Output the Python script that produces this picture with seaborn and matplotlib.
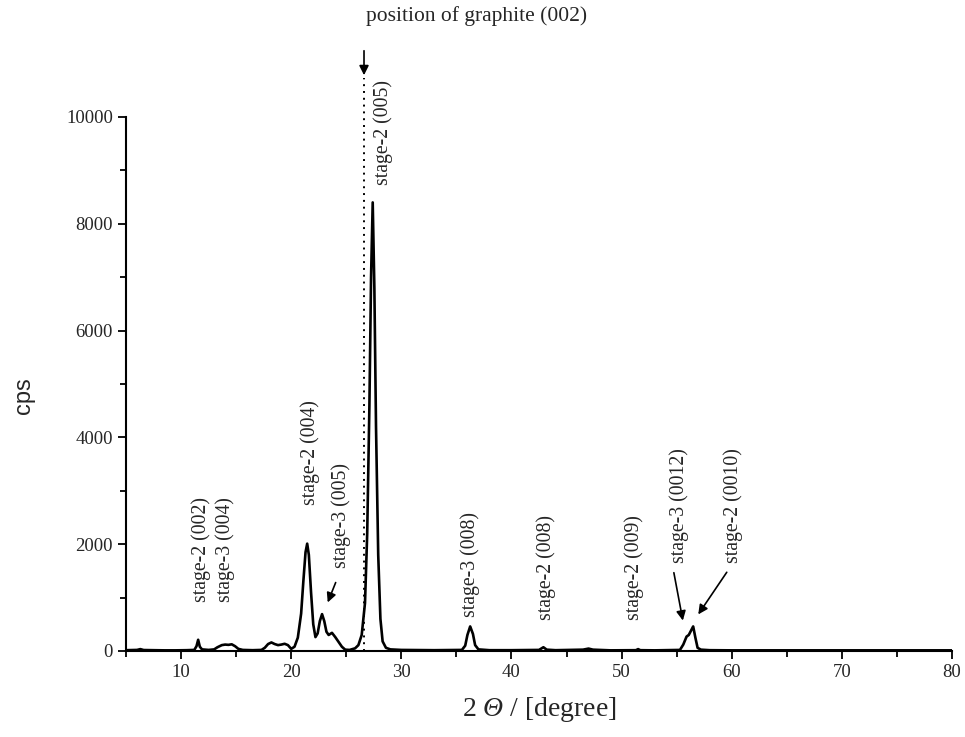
import seaborn as sns
import numpy as np
import pandas as pd
import matplotlib.pyplot as plt
from matplotlib.ticker import MultipleLocator

# XRD pattern (2 theta in degree, intensity in cps)
two_theta = [5.0, 6.0, 6.3, 6.6, 7.5, 8.5, 9.5, 10.5, 11.2, 11.4, 11.55, 11.7, 11.9,
             12.5, 13.0, 13.3, 13.7, 14.0, 14.3, 14.6, 14.9, 15.2, 15.6, 16.5, 17.3,
             17.6, 17.9, 18.2, 18.5, 18.8, 19.1, 19.4, 19.7, 20.0, 20.3, 20.6, 20.9,
             21.1, 21.3, 21.45, 21.6, 21.8, 22.0, 22.2, 22.4, 22.6, 22.8, 23.0, 23.2,
             23.4, 23.7, 24.0, 24.3, 24.6, 24.9, 25.3, 25.8, 26.1, 26.4, 26.7, 26.9,
             27.1, 27.25, 27.4, 27.55, 27.7, 27.9, 28.1, 28.3, 28.6, 29.0, 30.0, 33.0,
             35.5, 35.8, 36.0, 36.25, 36.5, 36.7, 37.0, 38.0, 40.0, 42.5, 42.9, 43.2,
             44.0, 46.5, 47.0, 47.4, 49.0, 51.3, 51.5, 51.7, 53.0, 55.3, 55.6, 55.9,
             56.1, 56.3, 56.5, 56.7, 56.9, 57.2, 58.0, 60.0, 70.0, 80.0]
cps = [15, 20, 35, 18, 15, 12, 12, 15, 20, 90, 210, 80, 30,
       20, 30, 70, 110, 120, 115, 125, 90, 40, 20, 15, 20,
       60, 130, 160, 130, 110, 120, 135, 110, 40, 80, 250, 700,
       1300, 1850, 2010, 1800, 1100, 500, 260, 330, 560, 690, 560, 360,
       300, 340, 260, 170, 80, 25, 20, 50, 110, 300, 900, 2200,
       4600, 7000, 8400, 6800, 4200, 1800, 600, 180, 60, 30, 20, 15,
       20, 100, 300, 460, 320, 110, 30, 15, 15, 20, 70, 25,
       15, 25, 45, 25, 12, 15, 35, 15, 12, 20, 120, 270,
       300, 380, 460, 250, 60, 25, 15, 12, 12, 12]

graphite_002 = 26.61

# peak labels: text, x, y of the lower end of the rotated text
peak_labels = ["stage-2 (002)", "stage-3 (004)", "stage-2 (004)", "stage-3 (005)",
               "stage-2 (005)", "stage-3 (008)", "stage-2 (008)", "stage-2 (009)",
               "stage-3 (0012)", "stage-2 (0010)"]
label_x = [11.81, 13.99, 21.71, 24.52, 28.34, 36.24, 43.14, 51.13, 55.21, 60.12]
label_y = [918, 918, 2734, 1554, 8727, 637, 580, 580, 1648, 1648]

df = pd.DataFrame({"two_theta": two_theta, "cps": cps})

sns.set_style("ticks")
plt.rcParams["font.family"] = ["Liberation Serif", "DejaVu Serif"]
# math "rm" set to the italic face so the capital theta comes out slanted
plt.rcParams["mathtext.fontset"] = "custom"
plt.rcParams["mathtext.rm"] = "Liberation Serif:italic"
plt.rcParams["mathtext.it"] = "Liberation Serif:italic"

fig = plt.figure(figsize=(9.65, 7.37), dpi=100)
ax = fig.add_axes([0.1306, 0.1167, 0.8559, 0.7246])

sns.lineplot(data=df, x="two_theta", y="cps", color="black", linewidth=1.9, ax=ax)

# dotted marker for graphite (002) and its arrow
ax.plot([graphite_002, graphite_002], [0, 10730], color="black", linestyle=(0, (1, 2.5)),
        linewidth=1.4, clip_on=False)
ax.annotate("", xy=(graphite_002, 10730), xytext=(graphite_002, 11292),
            arrowprops=dict(arrowstyle="-|>", color="black", lw=1.2, mutation_scale=14),
            annotation_clip=False)
ax.text(26.75, 11700, "position of graphite (002)", fontsize=15.5, ha="left", va="bottom",
        clip_on=False)

for txt, lx, ly in zip(peak_labels, label_x, label_y):
    ax.text(lx, ly, txt, rotation=90, ha="center", va="bottom", fontsize=14.2)

arrow_kw = dict(arrowstyle="-|>", color="black", lw=1.2, mutation_scale=14)
ax.annotate("", xy=(23.22, 861), xytext=(24.13, 1330), arrowprops=arrow_kw)
ax.annotate("", xy=(55.61, 519), xytext=(54.70, 1517), arrowprops=arrow_kw)
ax.annotate("", xy=(56.82, 642), xytext=(59.69, 1517), arrowprops=arrow_kw)

ax.set_xlim(5, 80)
ax.set_ylim(0, 10000)
ax.xaxis.set_major_locator(MultipleLocator(10))
ax.xaxis.set_minor_locator(MultipleLocator(5))
ax.yaxis.set_major_locator(MultipleLocator(2000))
ax.yaxis.set_minor_locator(MultipleLocator(1000))
ax.tick_params(which="major", direction="out", length=6, width=1.3, labelsize=13.5, color="black")
ax.tick_params(which="minor", direction="out", length=4, width=1.3, color="black")

sns.despine(ax=ax)
for side in ["left", "bottom"]:
    ax.spines[side].set_linewidth(1.5)
    ax.spines[side].set_color("black")

ax.set_xlabel("2 $\\mathrm{Θ}$ / [degree]", fontsize=20, labelpad=10)
ax.set_ylabel("cps", fontsize=17, family=["Liberation Sans"])
ax.yaxis.set_label_coords(-0.110, 0.478)

fig.savefig("out.png", dpi=100)
